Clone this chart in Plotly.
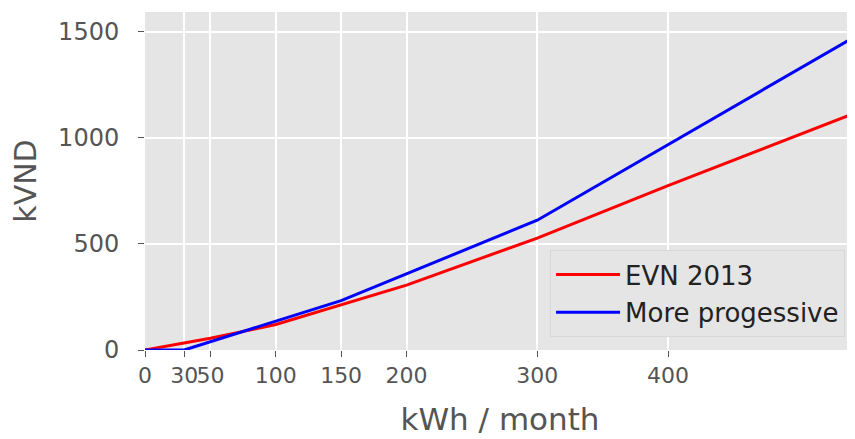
import plotly.graph_objects as go

# cumulative bill (kVND) at the tier breakpoints (kWh / month)
evn_kwh = [0, 50, 100, 200, 300, 400, 543]
evn_kvnd = [0, 55, 120, 306, 528, 775, 1118]

prog_kwh = [0, 30, 150, 300, 543]
prog_kvnd = [0, 0, 233, 612, 1478]

x_ticks = [0, 30, 50, 100, 150, 200, 300, 400]
y_ticks = [0, 500, 1000, 1500]

FONT = "DejaVu Sans"
GREY = "#555555"

fig = go.Figure()
fig.add_trace(go.Scatter(
    x=evn_kwh, y=evn_kvnd, mode="lines", name="EVN 2013", legendgroup="a",
    line=dict(color="#ff0000", width=3),
))
fig.add_trace(go.Scatter(
    x=prog_kwh, y=prog_kvnd, mode="lines", name="More progessive", legendgroup="b",
    line=dict(color="#0000ff", width=3),
))

# the page body has an 8px margin, so the figure is 8px smaller and shifted
fig.update_layout(
    width=847,
    height=431,
    margin=dict(l=137, r=0, t=4, b=89),
    paper_bgcolor="white",
    plot_bgcolor="#E5E5E5",
    font=dict(family=FONT, size=24, color=GREY),
    showlegend=True,
    legend=dict(
        x=0.986, y=0.038, xanchor="right", yanchor="bottom",
        bgcolor="#E5E5E5", bordercolor="#D8D8D8", borderwidth=1,
        font=dict(family=FONT, size=26, color="#222222"),
        tracegroupgap=1, itemwidth=64,
    ),
    xaxis=dict(
        range=[0, 543],
        tickmode="array", tickvals=x_ticks, tickangle=0,
        showgrid=True, gridcolor="white", gridwidth=1.5,
        zeroline=False, showline=False,
        ticks="outside", ticklen=6, tickcolor=GREY, tickwidth=1,
        tickfont=dict(size=22, color=GREY),
        title=dict(text="kWh / month", font=dict(size=31, color=GREY), standoff=20),
    ),
    yaxis=dict(
        range=[0, 1594],
        tickmode="array", tickvals=y_ticks,
        showgrid=True, gridcolor="white", gridwidth=1.5,
        zeroline=False, showline=False,
        ticks="outside", ticklen=6, tickcolor=GREY, tickwidth=1,
        tickfont=dict(size=24, color=GREY),
        ticklabelstandoff=14,
        title=dict(text="kVND", font=dict(size=30, color=GREY), standoff=18),
    ),
)

fig.write_html("out.html")
